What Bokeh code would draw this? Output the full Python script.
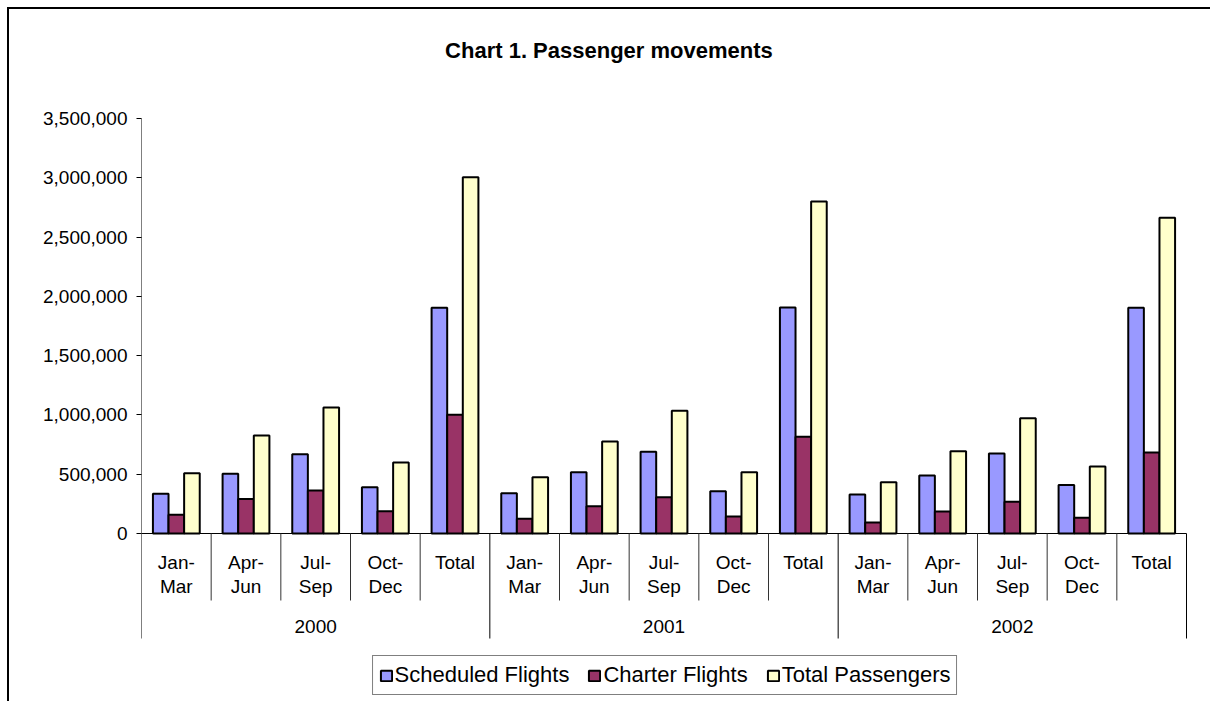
from bokeh.plotting import figure
from bokeh.models import (Range1d, FixedTicker, NumeralTickFormatter, Legend,
                          LegendItem)
from bokeh.core.properties import value
from bokeh.embed import file_html
from bokeh.resources import INLINE

# ---------------- data ----------------
title_text = "Chart 1.  Passenger movements"
years = ["2000", "2001", "2002"]
periods_line1 = ["Jan-", "Apr-", "Jul-", "Oct-", "Total"]
periods_line2 = ["Mar", "Jun", "Sep", "Dec", ""]
scheduled = [335000, 503000, 669000, 391000, 1903000,
             340000, 517000, 689000, 357000, 1906000,
             329000, 489000, 675000, 408000, 1903000]
charter = [158000, 292000, 363000, 188000, 1001000,
           124000, 230000, 306000, 143000, 815000,
           93000, 186000, 267000, 132000, 683000]
total_pax = [509000, 826000, 1063000, 599000, 3005000,
             475000, 776000, 1035000, 517000, 2800000,
             433000, 694000, 973000, 565000, 2662000]
y_ticks = [0, 500000, 1000000, 1500000, 2000000, 2500000, 3000000, 3500000]
series_names = ["Scheduled Flights", "Charter Flights", "Total Passengers"]
series_colors = ["#9999FF", "#993366", "#FFFFCC"]

FONT = value("Liberation Sans")

# ---------------- layout (pixels on the canvas) ----------------
W, H = 1203, 694
ML, MR, MT, MB = 132, 24, 0, 4
TOP_TICK_PX, ZERO_PX = 109, 524          # canvas y of top tick and of zero
YEAR_SEP_PX, QTR_SEP_PX = 629, 591       # bottoms of separators
TITLE_CENTER_PX = 602.5

n = len(scheduled)
n_per_year = len(periods_line1)
frame_w = W - ML - MR
frame_h = H - MT - MB
px_x = 1045 / n                           # pixels per category
x_end = frame_w / px_x
y_max = y_ticks[-1]
ppu = (ZERO_PX - TOP_TICK_PX) / y_max    # pixels per passenger
y_top = y_max + (TOP_TICK_PX - MT) / ppu
y_bot = -(MT + frame_h - ZERO_PX) / ppu
year_sep = -(YEAR_SEP_PX - ZERO_PX) / ppu
qtr_sep = -(QTR_SEP_PX - ZERO_PX) / ppu

p = figure(width=W, height=H, output_backend="svg", toolbar_location=None,
           x_range=Range1d(0, x_end), y_range=Range1d(y_bot, y_top),
           x_axis_type=None, min_border_left=ML, min_border_right=MR,
           min_border_top=MT, min_border_bottom=MB)
p.styles = {"margin-left": "7px", "margin-top": "7px",
            "border-left": "2px solid black", "border-top": "2px solid black"}
p.outline_line_color = None
p.background_fill_color = "white"
p.border_fill_color = "white"
p.xgrid.visible = False
p.ygrid.visible = False

# y axis (ticks + labels only; the axis line is drawn as a segment)
ax = p.yaxis[0]
ax.ticker = FixedTicker(ticks=y_ticks)
ax.formatter = NumeralTickFormatter(format="0,0")
ax.major_label_text_font = "Liberation Sans"
ax.major_label_text_font_size = "19px"
ax.major_label_text_color = "black"
ax.major_tick_in = 0
ax.major_tick_out = 5
ax.minor_tick_line_color = None
ax.axis_line_color = None
ax.major_tick_line_color = "black"
ax.major_label_standoff = 9

# bars
centers = [i + 0.5 for i in range(n)]
bw = 0.224
renderers = []
for k, (vals, color) in enumerate(zip([scheduled, charter, total_pax], series_colors)):
    offs = (k - 1) * bw
    r = p.vbar(x=[c + offs for c in centers], top=vals, bottom=0,
               width=bw, fill_color=color, line_color="black", line_width=2)
    renderers.append(r)

# axis lines
p.segment(x0=[0], y0=[0], x1=[n], y1=[0], line_color="black", line_width=1)
p.segment(x0=[0], y0=[year_sep], x1=[0], y1=[y_max], line_color="black", line_width=1)

# category separators
short_x = [i for i in range(1, n) if i % n_per_year != 0]
long_x = [i for i in range(n_per_year, n + 1, n_per_year)]
p.segment(x0=short_x, y0=[0] * len(short_x), x1=short_x, y1=[qtr_sep] * len(short_x),
          line_color="#333333", line_width=1)
p.segment(x0=long_x, y0=[0] * len(long_x), x1=long_x, y1=[year_sep] * len(long_x),
          line_color="black", line_width=1)

# category labels
l1 = periods_line1 * len(years)
l2 = periods_line2 * len(years)
p.text(x=centers, y=[0] * n, text=l1, text_align="center", text_baseline="alphabetic",
       y_offset=29, text_font=FONT, text_font_size="19px", text_color="black")
p.text(x=centers, y=[0] * n, text=l2, text_align="center", text_baseline="alphabetic",
       y_offset=53, text_font=FONT, text_font_size="19px", text_color="black")
year_x = [j * n_per_year + n_per_year / 2 for j in range(len(years))]
p.text(x=year_x, y=[0] * len(years), text=years, text_align="center",
       text_baseline="alphabetic", y_offset=93, text_font=FONT,
       text_font_size="19px", text_color="black")

# title
p.text(x=[(TITLE_CENTER_PX - ML) / px_x], y=[y_max], text=[title_text],
       text_align="center", text_baseline="alphabetic", y_offset=-68,
       text_font=FONT, text_font_size="22px", text_font_style="bold",
       text_color="black")

legend = Legend(items=[LegendItem(label=nm, renderers=[r]) for nm, r in zip(series_names, renderers)],
                orientation="horizontal", location="bottom_center",
                label_text_font="Liberation Sans", label_text_font_size="22px",
                label_text_color="black", glyph_width=14, glyph_height=13,
                label_standoff=2, spacing=18, padding=6, margin=4,
                border_line_color="black", border_line_width=1,
                background_fill_color="white", background_fill_alpha=1.0)
p.add_layout(legend, "center")

open("out.html", "w").write(file_html(p, INLINE))
